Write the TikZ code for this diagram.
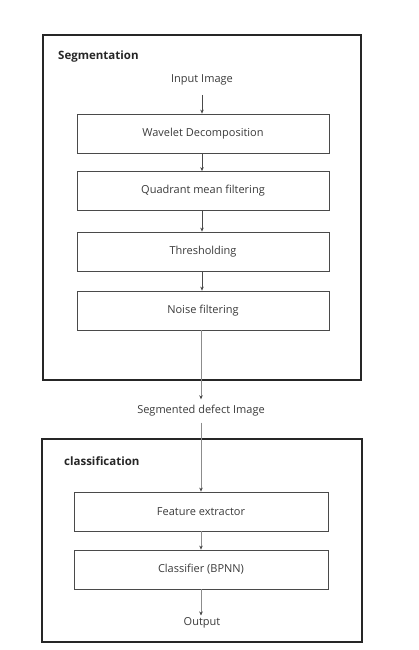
\documentclass[tikz,border=0pt]{standalone}
\usepackage{fontspec}
\setmainfont{Open Sans}
\usetikzlibrary{arrows.meta}
\definecolor{txt}{HTML}{3A3A3A}
\definecolor{ln}{HTML}{4A4A4A}
\begin{document}
\begin{tikzpicture}[x=1pt,y=-1pt,
  frame/.style={draw=black!85,line width=1.8pt,minimum width=#1,inner sep=0pt},
  stepbox/.style={draw=ln,line width=0.8pt,minimum height=39pt,inner sep=0pt,font=\fontsize{11}{13}\selectfont,text=txt},
  lbl/.style={font=\fontsize{11}{13}\selectfont,text=txt,inner sep=2pt},
  title/.style={font=\bfseries\fontsize{11.5}{13}\selectfont,text=black!85,anchor=west,inner sep=0pt},
  arr/.style={draw=ln,line width=0.6pt,-{Stealth[length=4pt,width=3.5pt]}},
  garr/.style={draw=black!45,line width=0.5pt,-{Stealth[length=4pt,width=3.5pt,color=ln,fill=ln]}}
]
\useasboundingbox (0,0) rectangle (418,650);
% frames
\node[frame=318pt,minimum height=345pt] (segbox) at (202,207.5) {};
\node[frame=320pt,minimum height=203pt] (clsbox) at (202,540.5) {};
\node[title] (segt) at (58,57) {Segmentation};
\node[title] (clst) at (64,461) {classification};
% segmentation steps
\node[lbl] (in) at (202,80) {Input Image};
\node[stepbox,minimum width=252pt] (wav) at (203,133.5) {Wavelet Decomposition};
\node[stepbox,minimum width=252pt] (quad) at (203,191) {Quadrant mean filtering};
\node[stepbox,minimum width=252pt] (thr) at (203,251.5) {Thresholding};
\node[stepbox,minimum width=252pt] (noise) at (203,310.5) {Noise filtering};
\node[lbl,inner sep=6pt] (seg) at (201,411) {Segmented defect Image};
% classification steps
\node[stepbox,minimum width=254pt] (feat) at (201,511.5) {Feature extractor};
\node[stepbox,minimum width=254pt] (clf) at (201,569.5) {Classifier (BPNN)};
\node[lbl] (out) at (202,623) {Output};
% connectors
\draw[arr] (in.south |- 0,95) -- (in.south |- wav.north);
\draw[arr] (wav.south -| in.south) -- (quad.north -| in.south);
\draw[arr] (quad.south -| in.south) -- (thr.north -| in.south);
\draw[arr] (thr.south -| in.south) -- (noise.north -| in.south);
\draw[garr] (noise.south -| seg.north) -- (seg.north);
\draw[garr] (seg.south) -- (feat.north -| seg.south);
\draw[garr] (feat.south -| seg.south) -- (clf.north -| seg.south);
\draw[garr] (clf.south -| seg.south) -- (out.north -| seg.south);
\end{tikzpicture}
\end{document}
